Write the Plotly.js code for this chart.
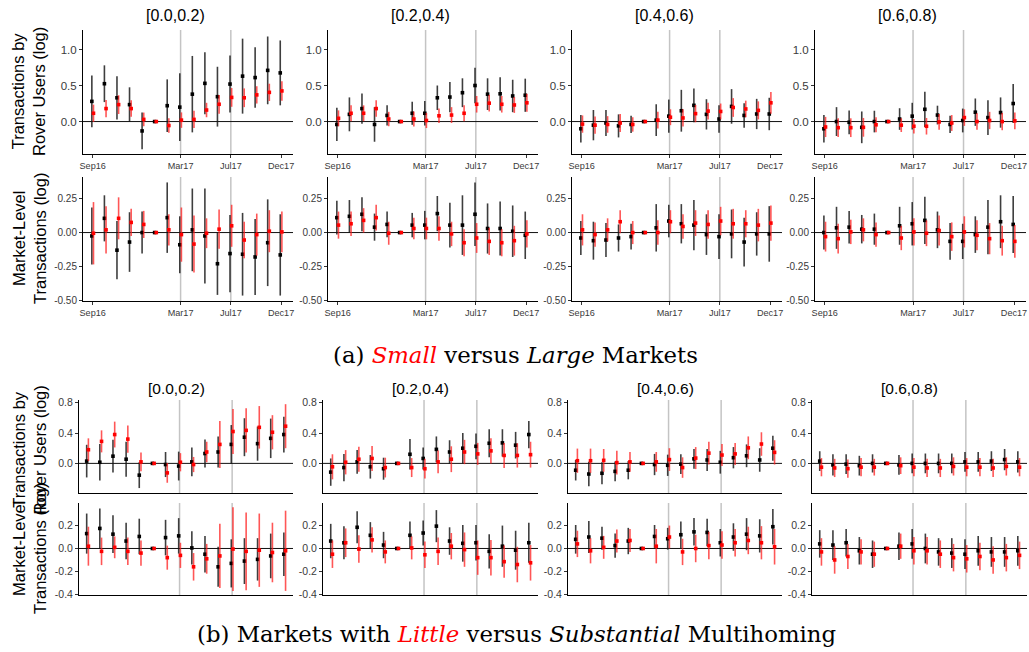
<!DOCTYPE html>
<html><head><meta charset="utf-8">
<script src="https://cdn.plot.ly/plotly-3.0.1.min.js"></script>
<style>html,body{margin:0;padding:0;background:#fff}#chart{width:1029px;height:652px}</style>
</head><body><div id="chart"></div>
<script>
// ---------- data ----------
const periodIdx = [0,1,2,3,4,5,6,7,8,9,10,11,12,13,14,15];
const tickIdx = [0,7,11,15];
const tickText = ['Sep16','Mar17','Jul17','Dec17'];
const eventIdx = [7,11];
const bucketLabels = ['[0.0,0.2)','[0.2,0.4)','[0.4,0.6)','[0.6,0.8)'];
const yTickA1 = [0,0.5,1.0];           const yTickTextA1 = ['0.0','0.5','1.0'];
const yTickA2 = [-0.5,-0.25,0,0.25];   const yTickTextA2 = ['-0.50','-0.25','0.00','0.25'];
const yTickB1 = [0,0.4,0.8];           const yTickTextB1 = ['0.0','0.4','0.8'];
const yTickB2 = [-0.4,-0.2,0,0.2];     const yTickTextB2 = ['-0.4','-0.2','0.0','0.2'];
const roverTitle = 'Transactions by<br>Rover Users (log)';
const marketTitle = 'Market-Level<br>Transactions (log)';
const captionA = '(a) <i><span style="color:#ff0000">Small</span></i> versus <i>Large</i> Markets';
const captionB = '(b) Markets with <i><span style="color:#ff0000">Little</span></i> versus <i>Substantial</i> Multihoming';

// (a) Small vs Large — Rover-user transactions
const aRov1Blk   = [0.28,0.525,0.33,0.235,-0.13,0,0.22,0.2,0.38,0.53,0.345,0.52,0.63,0.61,0.71,0.675];
const aRov1BlkCI = [0.36,0.255,0.3,0.24,0.255,0,0.365,0.47,0.53,0.43,0.415,0.395,0.52,0.42,0.47,0.45];
const aRov1Red   = [0.115,0.18,0.235,0.18,0.03,0,-0.055,0.02,0.03,0.16,0.24,0.335,0.33,0.37,0.405,0.425];
const aRov1RedCI = [0.12,0.12,0.13,0.115,0.095,0,0.1,0.107,0.12,0.1,0.13,0.13,0.13,0.12,0.12,0.135];
const aRov2Blk   = [-0.04,0.1,0.18,-0.04,0.085,0,0.115,0.115,0.33,0.34,0.4,0.5,0.38,0.385,0.355,0.365];
const aRov2BlkCI = [0.23,0.235,0.21,0.24,0.14,0,0.16,0.17,0.17,0.21,0.2,0.245,0.22,0.23,0.225,0.23];
const aRov2Red   = [0.045,0.115,0.115,0.18,0.035,0,0.035,0.015,0.08,0.09,0.115,0.24,0.255,0.24,0.23,0.26];
const aRov2RedCI = [0.11,0.11,0.11,0.115,0.1,0,0.105,0.105,0.1,0.11,0.11,0.115,0.115,0.115,0.11,0.125];
const aRov3Blk   = [-0.1,-0.05,-0.02,-0.06,-0.04,0,0.02,0.075,0.15,0.225,0.1,0.035,0.21,0.085,0.105,0.105];
const aRov3BlkCI = [0.19,0.21,0.18,0.16,0.12,0,0.22,0.23,0.29,0.235,0.21,0.19,0.24,0.17,0.21,0.225];
const aRov3Red   = [-0.035,-0.05,-0.04,-0.02,-0.04,0,0.02,0.06,0.05,0.11,0.145,0.14,0.195,0.175,0.155,0.26];
const aRov3RedCI = [0.12,0.12,0.115,0.125,0.1,0,0.115,0.11,0.12,0.12,0.115,0.11,0.13,0.115,0.125,0.15];
const aRov4Blk   = [-0.1,0,-0.01,-0.08,0,0,0.035,0.075,0.17,0.09,-0.04,0.015,0.13,0.055,0.125,0.25];
const aRov4BlkCI = [0.19,0.2,0.165,0.22,0.15,0,0.15,0.185,0.245,0.13,0.12,0.165,0.19,0.24,0.21,0.27];
const aRov4Red   = [-0.075,-0.085,-0.085,-0.08,-0.045,0,-0.05,-0.065,-0.065,-0.005,-0.02,0.055,0,0.015,0,0.01];
const aRov4RedCI = [0.14,0.13,0.13,0.13,0.105,0,0.095,0.1,0.115,0.11,0.11,0.115,0.115,0.12,0.12,0.115];
// (a) Market-level transactions
const aMkt1Blk   = [-0.025,0.105,-0.13,-0.07,0,0,0.11,-0.09,0.02,-0.025,-0.23,-0.155,-0.16,-0.18,-0.075,-0.165];
const aMkt1BlkCI = [0.21,0.17,0.215,0.22,0.155,0,0.26,0.21,0.305,0.35,0.23,0.285,0.305,0.28,0.32,0.3];
const aMkt1Red   = [-0.005,0.02,0.105,0.075,0.06,0,0.02,-0.015,-0.085,-0.005,0.025,0.05,-0.055,-0.015,0.01,0.005];
const aMkt1RedCI = [0.23,0.175,0.155,0.1,0.1,0,0.115,0.2,0.21,0.11,0.145,0.155,0.135,0.155,0.155,0.15];
const aMkt2Blk   = [0.11,0.12,0.135,0.04,0.06,0,0.055,0.055,0.14,0.055,0.055,0.135,0.03,0.03,0.01,-0.02];
const aMkt2BlkCI = [0.125,0.12,0.125,0.1,0.095,0,0.09,0.105,0.13,0.165,0.22,0.235,0.185,0.2,0.19,0.175];
const aMkt2Red   = [0.055,0.065,0.09,0.11,-0.005,0,0.03,0.03,0.03,-0.01,-0.075,-0.04,-0.065,-0.075,-0.06,-0.01];
const aMkt2RedCI = [0.1,0.09,0.09,0.095,0.085,0,0.08,0.08,0.09,0.09,0.1,0.11,0.1,0.1,0.11,0.1];
const aMkt3Blk   = [-0.04,-0.06,-0.055,-0.04,-0.03,0,0.035,0.085,0.065,0.055,-0.015,-0.03,-0.01,-0.07,-0.01,-0.01];
const aMkt3BlkCI = [0.125,0.14,0.125,0.1,0.095,0,0.175,0.12,0.145,0.185,0.15,0.165,0.18,0.18,0.16,0.205];
const aMkt3Red   = [0.02,-0.015,0.02,0.08,0,0,0,0.08,0.045,0.07,0.06,0.085,0.065,0.065,0.055,0.07];
const aMkt3RedCI = [0.115,0.09,0.085,0.085,0.085,0,0.09,0.085,0.09,0.095,0.105,0.105,0.11,0.1,0.12,0.13];
const aMkt4Blk   = [0,0.035,0.04,0.025,0.025,0,0.05,0.065,0.09,0.02,-0.065,-0.065,-0.015,0.04,0.08,0.06];
const aMkt4BlkCI = [0.125,0.155,0.12,0.105,0.115,0,0.14,0.16,0.175,0.135,0.135,0.13,0.135,0.2,0.195,0.21];
const aMkt4Red   = [-0.03,-0.045,0.005,0.02,-0.015,0,-0.04,0.005,-0.005,0.015,-0.03,0.005,-0.02,-0.045,-0.06,-0.065];
const aMkt4RedCI = [0.11,0.11,0.09,0.085,0.09,0,0.09,0.1,0.095,0.11,0.105,0.115,0.11,0.115,0.11,0.12];
// (b) Little vs Substantial multihoming — Rover-user transactions
const bRov1Blk   = [0.03,0.015,0.095,0.055,-0.155,0,-0.015,-0.035,0.02,0.13,0.15,0.25,0.345,0.26,0.33,0.38];
const bRov1BlkCI = [0.215,0.24,0.215,0.23,0.17,0,0.165,0.19,0.19,0.185,0.205,0.255,0.25,0.225,0.26,0.235];
const bRov1Red   = [0.18,0.29,0.38,0.32,0.02,0,-0.125,0.015,-0.015,0.15,0.25,0.42,0.435,0.475,0.41,0.49];
const bRov1RedCI = [0.15,0.145,0.17,0.18,0.125,0,0.13,0.12,0.1,0.135,0.31,0.295,0.29,0.28,0.225,0.29];
const bRov2Blk   = [-0.115,-0.055,0.02,-0.045,-0.07,0,0.12,0.065,0.185,0.15,0.2,0.225,0.265,0.27,0.24,0.38];
const bRov2BlkCI = [0.18,0.18,0.155,0.155,0.145,0,0.2,0.145,0.17,0.155,0.2,0.17,0.185,0.18,0.175,0.18];
const bRov2Red   = [-0.045,0.015,0.055,0.065,-0.055,0,-0.055,-0.07,0.02,0.055,0.15,0.125,0.165,0.105,0.105,0.115];
const bRov2RedCI = [0.165,0.16,0.165,0.165,0.13,0,0.125,0.13,0.15,0.17,0.16,0.145,0.165,0.165,0.16,0.17];
const bRov3Blk   = [-0.09,-0.14,-0.13,-0.105,-0.09,0,-0.015,-0.025,-0.01,0.06,0.045,0.015,0.075,0.1,0.045,0.2];
const bRov3BlkCI = [0.135,0.16,0.145,0.13,0.12,0,0.14,0.14,0.13,0.13,0.145,0.15,0.14,0.15,0.155,0.165];
const bRov3Red   = [0.035,0.035,0.04,0.01,0.02,0,0.02,0.05,-0.055,0.07,0.135,0.11,0.125,0.205,0.255,0.145];
const bRov3RedCI = [0.16,0.16,0.15,0.155,0.13,0,0.13,0.15,0.135,0.145,0.15,0.145,0.145,0.15,0.155,0.16];
const bRov4Blk   = [0.03,-0.02,-0.01,-0.03,0,0,-0.02,0,0,0,0,0.02,0.02,0.03,0.05,0.02];
const bRov4BlkCI = [0.13,0.14,0.13,0.13,0.12,0,0.13,0.13,0.13,0.13,0.13,0.13,0.13,0.13,0.14,0.14];
const bRov4Red   = [-0.05,-0.06,-0.07,-0.05,-0.05,0,-0.03,-0.05,-0.06,-0.06,-0.04,-0.05,-0.05,-0.06,-0.04,-0.05];
const bRov4RedCI = [0.12,0.12,0.12,0.12,0.11,0,0.11,0.12,0.12,0.12,0.12,0.12,0.12,0.12,0.12,0.12];
// (b) Market-level transactions
const bMkt1Blk   = [0.13,0.175,0.125,0.065,0.105,0,0.095,0.11,0.005,-0.05,-0.16,-0.13,-0.11,-0.095,-0.065,-0.05];
const bMkt1BlkCI = [0.175,0.175,0.165,0.16,0.155,0,0.155,0.155,0.145,0.16,0.175,0.21,0.2,0.185,0.195,0.19];
const bMkt1Red   = [0.02,-0.025,0.01,-0.025,-0.04,0,-0.08,-0.06,-0.16,-0.09,-0.065,-0.005,-0.025,-0.015,-0.035,-0.02];
const bMkt1RedCI = [0.17,0.12,0.095,0.12,0.11,0,0.105,0.11,0.12,0.13,0.28,0.365,0.34,0.32,0.26,0.35];
const bMkt2Blk   = [0.065,0.05,0.185,0.115,0.03,0,0.115,0.135,0.195,0.065,0.045,0.05,-0.025,0.02,-0.015,0.05];
const bMkt2BlkCI = [0.15,0.145,0.14,0.115,0.115,0,0.12,0.11,0.14,0.12,0.16,0.155,0.15,0.18,0.17,0.175];
const bMkt2Red   = [-0.05,0.05,-0.005,0.075,-0.03,0,0.005,-0.055,-0.025,0.02,-0.01,-0.08,-0.08,-0.115,-0.14,-0.125];
const bMkt2RedCI = [0.12,0.125,0.12,0.11,0.1,0,0.1,0.115,0.12,0.115,0.15,0.15,0.155,0.14,0.155,0.155];
const bMkt3Blk   = [0.08,0.1,0.09,0.025,0.065,0,0.105,0.085,0.12,0.145,0.14,0.05,0.1,0.125,0.11,0.19];
const bMkt3BlkCI = [0.125,0.14,0.1,0.105,0.115,0,0.1,0.095,0.115,0.12,0.12,0.12,0.12,0.14,0.145,0.155];
const bMkt3Red   = [0.04,-0.02,0.01,0.065,0.07,0,0.02,0.1,-0.03,0,0.025,0.03,0.05,0.07,0.05,0.015];
const bMkt3RedCI = [0.115,0.11,0.1,0.1,0.1,0,0.15,0.1,0.115,0.12,0.12,0.12,0.12,0.12,0.145,0.155];
const bMkt4Blk   = [0.04,0.03,0.05,-0.02,-0.05,0,0.02,0.04,0,-0.03,-0.04,-0.05,-0.02,-0.03,-0.03,-0.02];
const bMkt4BlkCI = [0.12,0.13,0.12,0.12,0.12,0,0.12,0.13,0.13,0.12,0.13,0.13,0.13,0.13,0.13,0.13];
const bMkt4Red   = [-0.03,-0.1,-0.07,-0.03,-0.05,0,0.02,-0.02,-0.02,-0.05,-0.08,-0.09,-0.07,-0.1,-0.08,-0.06];
const bMkt4RedCI = [0.12,0.12,0.11,0.11,0.11,0,0.11,0.12,0.12,0.12,0.12,0.12,0.12,0.12,0.12,0.12];

// ---------- layout geometry ----------
const W = 1029, H = 652;
const fx = p => p / W, fy = p => 1 - p / H;
const colsA = [[83,293],[328,538],[572,782],[815,1026]];
const colsB = [[79,293],[323,538],[568,782],[812,1027]];
const rows = [
  {y0:30,  y1:154, range:[-0.45,1.27],  tv:yTickA1, tt:yTickTextA1, tf:11.5, xlab:true,  cols:colsA, xr:[-0.77,15.95],
   series:[[aRov1Blk,aRov1BlkCI,aRov1Red,aRov1RedCI],[aRov2Blk,aRov2BlkCI,aRov2Red,aRov2RedCI],[aRov3Blk,aRov3BlkCI,aRov3Red,aRov3RedCI],[aRov4Blk,aRov4BlkCI,aRov4Red,aRov4RedCI]]},
  {y0:177, y1:301, range:[-0.505,0.41], tv:yTickA2, tt:yTickTextA2, tf:10, xlab:true,  cols:colsA, xr:[-0.77,15.95],
   series:[[aMkt1Blk,aMkt1BlkCI,aMkt1Red,aMkt1RedCI],[aMkt2Blk,aMkt2BlkCI,aMkt2Red,aMkt2RedCI],[aMkt3Blk,aMkt3BlkCI,aMkt3Red,aMkt3RedCI],[aMkt4Blk,aMkt4BlkCI,aMkt4Red,aMkt4RedCI]]},
  {y0:400, y1:493, range:[-0.39,0.835], tv:yTickB1, tt:yTickTextB1, tf:10.5, xlab:false, cols:colsB, xr:[-0.65,15.63],
   series:[[bRov1Blk,bRov1BlkCI,bRov1Red,bRov1RedCI],[bRov2Blk,bRov2BlkCI,bRov2Red,bRov2RedCI],[bRov3Blk,bRov3BlkCI,bRov3Red,bRov3RedCI],[bRov4Blk,bRov4BlkCI,bRov4Red,bRov4RedCI]]},
  {y0:503, y1:595, range:[-0.406,0.397],tv:yTickB2, tt:yTickTextB2, tf:10.5, xlab:false, cols:colsB, xr:[-0.65,15.63],
   series:[[bMkt1Blk,bMkt1BlkCI,bMkt1Red,bMkt1RedCI],[bMkt2Blk,bMkt2BlkCI,bMkt2Red,bMkt2RedCI],[bMkt3Blk,bMkt3BlkCI,bMkt3Red,bMkt3RedCI],[bMkt4Blk,bMkt4BlkCI,bMkt4Red,bMkt4RedCI]]}
];
const dodge = 0.065;
const FONT = 'Liberation Sans, Arial, sans-serif';
const SERIF = 'DejaVu Serif, Liberation Serif, serif';

const data = [], shapes = [], annotations = [];
const layout = {
  width: W, height: H, margin: {l:0,r:0,t:0,b:0},
  paper_bgcolor: '#fff', plot_bgcolor: 'rgba(0,0,0,0)',
  showlegend: false, font: {family: FONT, color: '#000'}
};

rows.forEach((row, r) => {
  row.cols.forEach((col, c) => {
    const n = r * 4 + c + 1;
    const xa = n === 1 ? 'x' : 'x' + n, ya = n === 1 ? 'y' : 'y' + n;
    const [blk, blkCI, red, redCI] = row.series[c];
    layout[n === 1 ? 'xaxis' : 'xaxis' + n] = {
      domain: [fx(col[0]), fx(col[1])], anchor: ya, range: row.xr,
      showline: true, linecolor: '#000', linewidth: 1, showgrid: false, zeroline: false,
      tickmode: 'array', tickvals: tickIdx, ticktext: tickText, ticklabeloverflow: 'allow',
      ticks: row.xlab ? 'outside' : '', ticklen: 3, tickcolor: '#333',
      showticklabels: row.xlab, tickfont: {size: 9.1, color: '#3a3a3a', family: FONT}, fixedrange: true
    };
    layout[n === 1 ? 'yaxis' : 'yaxis' + n] = {
      domain: [fy(row.y1), fy(row.y0)], anchor: xa, range: row.range,
      showline: true, linecolor: '#000', linewidth: 1, showgrid: false, zeroline: false,
      tickmode: 'array', tickvals: row.tv, ticktext: row.tt,
      ticks: 'outside', ticklen: 3, tickcolor: '#333',
      tickfont: {size: row.tf, color: '#3a3a3a', family: FONT}, fixedrange: true
    };
    eventIdx.forEach(e => shapes.push({
      type: 'line', xref: xa, yref: ya + ' domain', x0: e, x1: e, y0: 0, y1: 1,
      line: {color: '#c4c4c4', width: 1.5}, layer: 'below'
    }));
    shapes.push({
      type: 'line', xref: xa + ' domain', yref: ya, x0: 0, x1: 1, y0: 0, y1: 0,
      line: {color: '#111', width: 1}, layer: 'below'
    });
    data.push({
      type: 'scatter', mode: 'markers', xaxis: xa, yaxis: ya,
      x: periodIdx.map(i => i - dodge), y: blk,
      error_y: {type: 'data', array: blkCI, visible: true, thickness: 1.6, width: 0, color: 'rgba(20,20,20,0.82)'},
      marker: {symbol: 'square', size: 3.6, color: '#000'}, hoverinfo: 'skip'
    });
    data.push({
      type: 'scatter', mode: 'markers', xaxis: xa, yaxis: ya,
      x: periodIdx.map(i => i + dodge), y: red,
      error_y: {type: 'data', array: redCI, visible: true, thickness: 1.6, width: 0, color: 'rgba(255,30,30,0.75)'},
      marker: {symbol: 'square', size: 3.6, color: '#ff0000'}, hoverinfo: 'skip'
    });
    if (r === 0 || r === 2) {
      annotations.push({
        xref: 'paper', yref: 'paper', x: fx((col[0] + col[1]) / 2 - (r === 0 ? 13 : 10)),
        y: fy(r === 0 ? 16 : 388), xanchor: 'center', yanchor: 'middle', showarrow: false,
        text: bucketLabels[c], font: {size: r === 0 ? 16 : 15.5, color: '#000', family: FONT}
      });
    }
  });
  const isRover = (r === 0 || r === 2);
  annotations.push({
    xref: 'paper', yref: 'paper', x: fx(29), y: fy((row.y0 + row.y1) / 2 + (r === 2 ? 4 : 0)),
    xanchor: 'center', yanchor: 'middle', showarrow: false, textangle: -90,
    text: isRover ? roverTitle : marketTitle,
    font: {size: 16.5, color: '#000', family: FONT}
  });
});

annotations.push({
  xref: 'paper', yref: 'paper', x: fx(515), y: fy(355), xanchor: 'center', yanchor: 'middle',
  showarrow: false, text: captionA, font: {size: 22.8, color: '#000', family: SERIF}
});
annotations.push({
  xref: 'paper', yref: 'paper', x: fx(516), y: fy(634), xanchor: 'center', yanchor: 'middle',
  showarrow: false, text: captionB, font: {size: 22.8, color: '#000', family: SERIF}
});

layout.shapes = shapes;
layout.annotations = annotations;
Plotly.newPlot('chart', data, layout, {displayModeBar: false, staticPlot: true});
</script>
</body></html>
